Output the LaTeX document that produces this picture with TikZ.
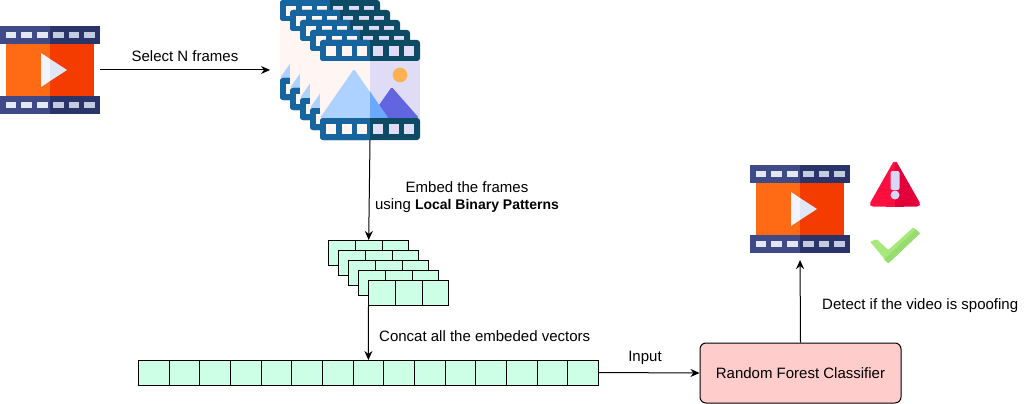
\documentclass[tikz,border=0pt]{standalone}
\usepackage{fontspec}
\setmainfont{Liberation Sans}
\usetikzlibrary{positioning,arrows.meta}

\definecolor{filmL}{HTML}{3F4A87}
\definecolor{filmR}{HTML}{2A3468}
\definecolor{holeL}{HTML}{E3E8F6}
\definecolor{holeR}{HTML}{C3CBE0}
\definecolor{bodyL}{HTML}{FF6A14}
\definecolor{bodyR}{HTML}{F53C00}
\definecolor{playL}{HTML}{F0F5FF}
\definecolor{playR}{HTML}{DFE6F5}
\definecolor{bandL}{HTML}{17659F}
\definecolor{bandR}{HTML}{0D4A63}
\definecolor{paperL}{HTML}{FFF5F2}
\definecolor{paperR}{HTML}{E0DCF5}
\definecolor{peakL}{HTML}{AED2FF}
\definecolor{peakR}{HTML}{6AA9FF}
\definecolor{peakD}{HTML}{6165E0}
\definecolor{sunC}{HTML}{FFB050}
\definecolor{warnL}{HTML}{FF0F40}
\definecolor{warnR}{HTML}{E3003A}
\definecolor{markC}{HTML}{D8D8F5}
\definecolor{okL}{HTML}{A6E87A}
\definecolor{okD}{HTML}{98DC70}
\definecolor{vecC}{HTML}{CCFFE6}
\definecolor{forestC}{HTML}{FFCCCC}

\tikzset{
  label text/.style={font=\fontsize{15}{17}\selectfont,align=center,inner sep=0pt},
  cell/.style={draw,fill=vecC,line width=1pt,outer sep=0pt,inner sep=0pt},
  small cell/.style={cell,minimum width=26.8pt,minimum height=25pt},
  long cell/.style={cell,minimum width=30.67pt,minimum height=25pt},
  icon box/.style={inner sep=0pt,outer sep=0pt},
  arrow/.style={-{Stealth[length=9pt,width=8pt]},line width=1pt},
  pics/filmicon/.style={code={
    \fill[bodyL] (6,17) rectangle (50,71);
    \fill[bodyR] (50,17) rectangle (94,71);
    \fill[playL] (41,27) -- (50,33) -- (50,55) -- (41,61) -- cycle;
    \fill[playR] (50,33) -- (67,44) -- (50,55) -- cycle;
    \foreach \y in {0,70}{
      \fill[filmL] (0,\y) rectangle (50,\y+18);
      \fill[filmR] (50,\y) rectangle (100,\y+18);
      \foreach \x in {5.5,21,37}
        \fill[holeL] (\x,\y+6) rectangle (\x+10.5,\y+12);
      \foreach \x in {53,68.5,84}
        \fill[holeR] (\x,\y+6) rectangle (\x+10.5,\y+12);
    }
  }},
  pics/frameicon/.style={code={
    \fill[paperL] (0,15) rectangle (50,85);
    \fill[paperR] (50,15) rectangle (100,85);
    \fill[sunC] (80,35) circle (7.3);
    \fill[peakD,rounded corners=1.5] (50,78) -- (71.7,47) -- (99,78) -- cycle;
    \fill[peakL,rounded corners=1.5] (0,78) -- (34,29) -- (68,78) -- cycle;
    \fill[peakR] (50,51.5) -- (68,78) -- (50,78) -- cycle;
    \foreach \y/\h in {0/21,78/22}{
      \fill[bandR,rounded corners=3] (0,\y) rectangle (100,\y+\h);
      \fill[bandL,rounded corners=3] (0,\y) rectangle (50,\y+\h);
      \fill[bandL] (10,\y) rectangle (50,\y+\h);
      \foreach \x in {6,21.5,37}
        \fill[paperL] (\x,\y+6) rectangle (\x+10,\y+16);
      \foreach \x in {53,68.5,84}
        \fill[paperR] (\x,\y+6) rectangle (\x+10,\y+16);
    }
  }}
}

\begin{document}
\begin{tikzpicture}[x=1pt,y=-1pt]
  \useasboundingbox (0,0) rectangle (1031,404);

  \node[icon box,minimum width=100pt,minimum height=88pt] (video) at (50,70) {};
  \pic at (video.north west) {filmicon};

  \foreach \i in {1,...,5}{
    \node[icon box,minimum size=100pt] (frame \i) at (320+\i*10,40+\i*10) {};
    \pic at (frame \i.north west) {frameicon};
  }
  \coordinate (frames in) at (270,70);

  \foreach \i in {1,...,5}{
    \node[small cell] (vec \i-a) at (331.9+\i*10,242.5+\i*10) {};
    \node[small cell,right=0pt of vec \i-a] (vec \i-b) {};
    \node[small cell,right=0pt of vec \i-b] (vec \i-c) {};
  }

  \node[long cell] (long 1) at (153.7,372.5) {};
  \foreach \i [remember=\i as \j (initially 1)] in {2,...,15}
    \node[long cell,right=0pt of long \j] (long \i) {};

  \node[draw,fill=forestC,rounded corners=6pt,line width=1pt,minimum width=201pt,minimum height=60pt,
        label text] (forest) at (800.5,373) {Random Forest Classifier};

  \node[icon box,minimum width=100pt,minimum height=88pt] (result) at (800,209) {};
  \pic at (result.north west) {filmicon};

  % warning sign and tick
  \fill[warnL,rounded corners=5pt] (895,159) -- (868,206.5) -- (895,206.5) -- cycle;
  \fill[warnR,rounded corners=5pt] (895,159) -- (922,206.5) -- (895,206.5) -- cycle;
  \fill[warnL] (886,175) rectangle (895,206.5);
  \fill[warnR] (895,175) rectangle (904,206.5);
  \fill[markC,rounded corners=2pt] (890.5,171) rectangle (899.5,190);
  \fill[markC] (895,195) circle (4.5);
  \fill[okL,rounded corners=1pt] (870,241.7) -- (876.7,239.3) -- (888.3,250) -- (913.3,227.3)
    -- (920,233.3) -- (888.3,263.3) -- cycle;
  \fill[okD] (920,233.3) -- (888.3,263.3) -- (884,259.5) -- (916,229.5) -- cycle;

  \draw[arrow] (video.east) -- (frames in);
  \draw[arrow] (frame 5.south) -- (vec 1-b.north);
  \draw[arrow] (vec 5-a.south west) -- (long 8.north);
  \draw[arrow] (long 15.east) -- (forest.west);
  \draw[arrow,shorten >=7pt] (forest.north) -- (result.south);

  \node[label text] (select text) at (185,56) {Select N frames};
  \node[label text] (embed text) at (467,197) {Embed the frames\\using {\fontsize{14}{17}\selectfont\bfseries Local Binary Patterns}};
  \node[label text,anchor=west] (concat text) at (379,336) {Concat all the embeded vectors};
  \node[label text] (input text) at (645,358) {Input};
  \node[label text,anchor=west] (detect text) at (822,306) {Detect if the video is spoofing};
\end{tikzpicture}
\end{document}
